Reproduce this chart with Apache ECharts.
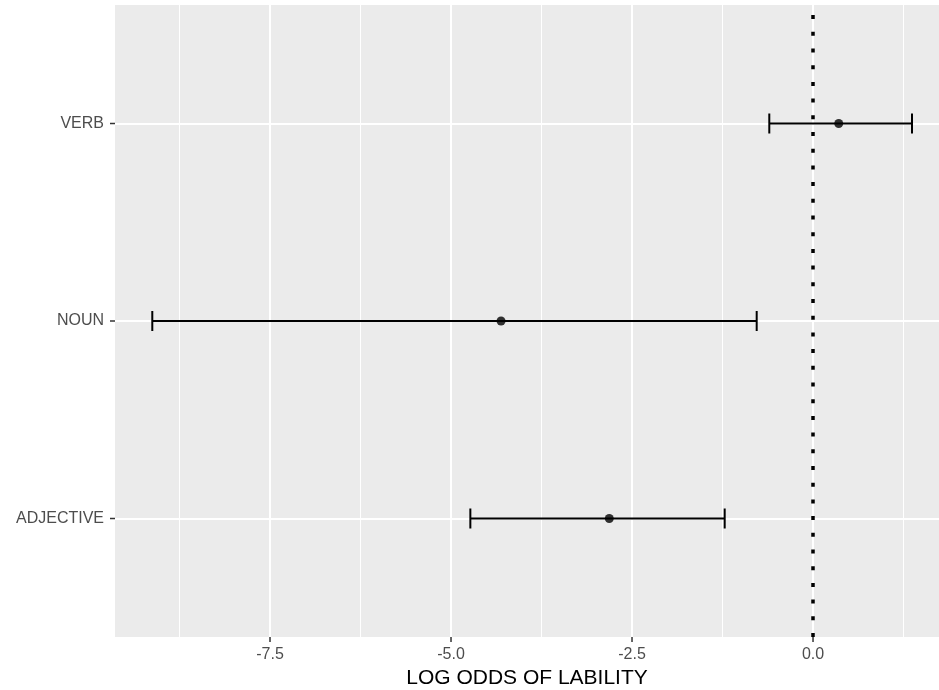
<!DOCTYPE html>
<html>
<head>
<meta charset="utf-8">
<script src="https://cdn.jsdelivr.net/npm/echarts@6/dist/echarts.min.js"></script>
<style>html,body{margin:0;padding:0;background:#fff}#c{width:939px;height:690px}</style>
</head>
<body>
<div id="c"></div>
<script>
// ---- data ----
const categories = ['ADJECTIVE', 'NOUN', 'VERB'];
const estimates = [-2.814, -4.309, 0.355];
const lowerCI = [-4.733, -9.126, -0.604];
const upperCI = [-1.220, -0.778, 1.367];
const xTicks = [-7.5, -5.0, -2.5, 0.0];
const xMinorGrid = [-8.75, -6.25, -3.75, -1.25, 1.25];
const refLine = [0];
const xTitle = 'LOG ODDS OF LABILITY';

const yPos = categories.map((c, i) => i + 1);
const fontFam = '"Liberation Sans", Arial, sans-serif';

const chart = echarts.init(document.getElementById('c'), null, {renderer: 'canvas'});

const TICK_LEN = 5;
const tickStyle = {stroke: '#333333', lineWidth: 1.5};

const option = {
  animation: false,
  backgroundColor: '#ffffff',
  grid: {left: 115, right: 0, top: 5, bottom: 53, show: true, backgroundColor: '#EBEBEB', borderWidth: 0,
    containLabel: false, outerBoundsMode: 'none'},
  xAxis: {
    type: 'value', min: -9.641, max: 1.740,
    name: xTitle, nameLocation: 'middle', nameGap: 31,
    nameTextStyle: {color: '#000', fontSize: 21, fontFamily: fontFam},
    axisLine: {show: false, onZero: false},
    axisTick: {show: false},
    axisLabel: {customValues: xTicks, color: '#4D4D4D', fontSize: 16, fontFamily: fontFam, margin: 10,
      formatter: v => v.toFixed(1)},
    splitLine: {show: false}
  },
  yAxis: {
    type: 'value', min: 0.4, max: 3.6,
    axisLine: {show: false, onZero: false},
    axisTick: {show: false},
    axisLabel: {customValues: yPos, color: '#4D4D4D', fontSize: 16, fontFamily: fontFam, margin: 11,
      formatter: v => categories[Math.round(v) - 1] || ''},
    splitLine: {show: false}
  },
  series: [
    {
      type: 'line', data: [], z: 1, silent: true,
      markLine: {
        z: 1, silent: true, symbol: 'none', label: {show: false}, animation: false,
        data: [
          ...xMinorGrid.map(v => ({xAxis: v, lineStyle: {color: '#fff', width: 1, type: 'solid'}})),
          ...xTicks.map(v => ({xAxis: v, lineStyle: {color: '#fff', width: 2, type: 'solid'}})),
          ...yPos.map(v => ({yAxis: v, lineStyle: {color: '#fff', width: 2, type: 'solid'}}))
        ]
      }
    },
    {
      type: 'line', data: [], z: 2, silent: true,
      markLine: {
        z: 2, silent: true, symbol: 'none', label: {show: false}, animation: false,
        data: refLine.map(v => ({xAxis: v, lineStyle: {color: '#000', width: 3.5, type: [4, 12.7], cap: 'butt'}}))
      }
    },
    // axis ticks (x): placed through the x scale, hanging below the panel
    {
      type: 'custom', z: 2, clip: false, silent: true,
      data: xTicks.map(v => [v, yPos[0]]),
      renderItem: function (params, api) {
        const cs = params.coordSys;
        const x = api.coord([api.value(0), api.value(1)])[0];
        const yb = cs.y + cs.height;
        return {type: 'line', shape: {x1: x, y1: yb, x2: x, y2: yb + TICK_LEN}, style: tickStyle};
      }
    },
    // axis ticks (y): placed through the y scale, left of the panel
    {
      type: 'custom', z: 2, clip: false, silent: true,
      data: yPos.map(v => [xTicks[0], v]),
      renderItem: function (params, api) {
        const cs = params.coordSys;
        const y = api.coord([api.value(0), api.value(1)])[1];
        const xl = cs.x;
        return {type: 'line', shape: {x1: xl - TICK_LEN, y1: y, x2: xl, y2: y}, style: tickStyle};
      }
    },
    {
      type: 'custom', z: 3,
      data: categories.map((c, i) => [lowerCI[i], upperCI[i], yPos[i]]),
      renderItem: function (params, api) {
        const y = api.value(2);
        const p1 = api.coord([api.value(0), y]);
        const p2 = api.coord([api.value(1), y]);
        const h = 10;
        const st = {stroke: '#000', lineWidth: 2};
        return {
          type: 'group',
          children: [
            {type: 'line', shape: {x1: p1[0], y1: p1[1], x2: p2[0], y2: p2[1]}, style: st},
            {type: 'line', shape: {x1: p1[0], y1: p1[1] - h, x2: p1[0], y2: p1[1] + h}, style: st},
            {type: 'line', shape: {x1: p2[0], y1: p2[1] - h, x2: p2[0], y2: p2[1] + h}, style: st}
          ]
        };
      }
    },
    {
      type: 'scatter', z: 4, symbol: 'circle', symbolSize: 9,
      itemStyle: {color: '#000'},
      data: categories.map((c, i) => [estimates[i], yPos[i]])
    }
  ]
};
chart.setOption(option);
</script>
</body>
</html>
